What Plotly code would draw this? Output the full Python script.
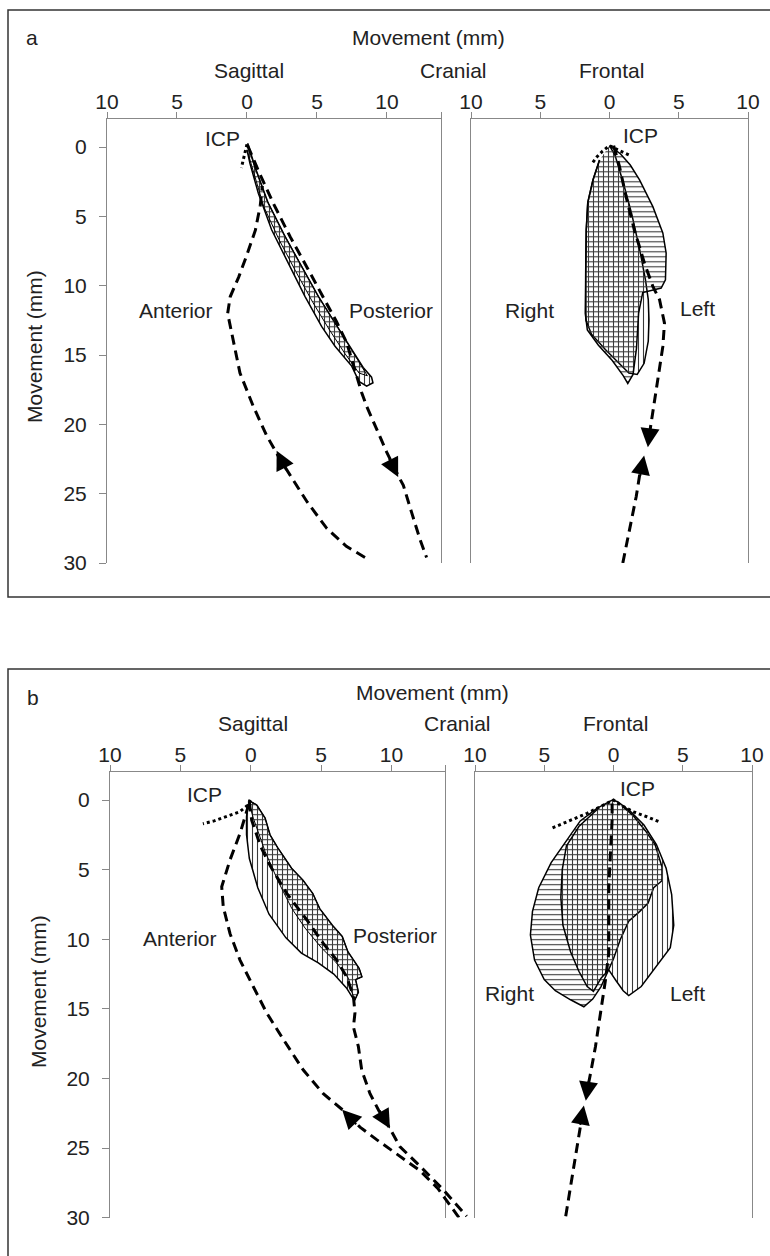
import plotly.graph_objects as go

W, H = 770, 1256

# ---------------- data (mm) ----------------
ytick_vals = [0, 5, 10, 15, 20, 25, 30]
xtick_vals = [-10, -5, 0, 5, 10]
xtick_text = ["10", "5", "0", "5", "10"]

# ---- panel a, sagittal ----
sa_envV_x = [0.05, 0.57, 1.52, 2.71, 3.90, 5.10, 6.29, 7.48, 8.30, 8.90, 9.00, 8.55, 8.00, 7.48, 6.29, 5.33, 4.14, 2.95, 1.76, 0.81, 0.21, 0.00]
sa_envV_y = [-0.27, 1.42, 4.05, 6.45, 8.60, 10.77, 12.70, 14.60, 15.90, 16.60, 17.00, 17.25, 16.90, 15.80, 14.37, 12.93, 10.77, 8.37, 5.97, 3.33, 1.17, 0.20]
sa_envH_x = [0.05, 0.50, 1.45, 2.65, 3.85, 5.05, 6.25, 7.40, 8.20, 8.60, 8.00, 7.00, 5.90, 4.70, 3.50, 2.30, 1.20, 0.40, 0.00]
sa_envH_y = [-0.20, 1.30, 3.90, 6.30, 8.50, 10.70, 12.60, 14.50, 15.80, 16.50, 16.30, 14.90, 13.20, 11.20, 9.00, 6.70, 4.30, 1.60, 0.20]
sa_dot_x = [0.0, -0.1, -0.2, -0.3, -0.4]
sa_dot_y = [-0.2, 0.2, 0.6, 1.0, 1.5]
sa_post_x = [0.05, 0.9, 1.9, 3.1, 4.3, 5.4, 6.4, 7.12, 7.48, 7.95, 8.19, 8.55, 9.26, 9.98, 10.8, 11.17, 11.76, 12.36, 12.83]
sa_post_y = [-0.1, 1.9, 4.1, 6.5, 8.7, 10.8, 12.6, 14.1, 15.3, 16.8, 17.7, 18.7, 20.36, 22.0, 23.7, 24.4, 26.35, 28.3, 29.6]
sa_ant_x = [8.43, 7.1, 5.7, 4.3, 3.1, 2.24, 1.4, 0.45, -0.5, -1.0, -1.38, -1.2, -0.6, -0.05, 0.6, 0.95, 1.1]
sa_ant_y = [29.6, 28.8, 27.5, 25.6, 23.7, 22.3, 20.8, 18.7, 16.3, 13.9, 12.0, 10.8, 9.4, 7.9, 6.0, 4.2, 2.8]
sa_arrows = [((10.8, 23.8), (10.1, 22.4)), ((2.12, 21.9), (2.85, 23.4))]

# ---- panel a, frontal ----
fa_envV_x = [0.0, 0.4, 1.0, 1.6, 2.2, 2.6, 2.8, 2.85, 2.8, 2.5, 2.0, 1.4, 0.6, -0.3, -1.3, -1.7, -1.72, -1.68, -1.57, -1.2, -0.72]
fa_envV_y = [-0.1, 0.6, 2.6, 4.8, 7.5, 9.6, 11.0, 12.5, 14.0, 15.6, 16.4, 16.3, 15.5, 14.6, 13.5, 12.5, 9.0, 6.0, 4.0, 2.4, 0.94]
fa_envH_x = [0.0, 0.8, 1.5, 2.17, 3.13, 3.85, 4.09, 4.04, 3.73, 2.89, 2.4, 2.1, 1.95, 1.7, 1.32, 1.0, 0.2, -0.8, -1.6, -1.75, -1.72, -1.68, -1.57, -1.2, -0.72]
fa_envH_y = [-0.1, 0.5, 1.3, 2.37, 4.3, 6.2, 7.65, 9.57, 10.17, 10.4, 10.5, 12.0, 14.5, 16.4, 17.05, 16.5, 15.4, 14.3, 13.2, 12.0, 9.0, 6.0, 4.0, 2.4, 0.94]
fa_dot_x = [-1.2, -0.9, -0.5, 0.0, 0.5, 1.0, 1.45]
fa_dot_y = [1.1, 0.7, 0.3, -0.1, 0.15, 0.4, 0.6]
fa_open_x = [0.3, 0.72, 1.2, 1.8, 2.53, 3.13, 3.61, 3.97, 3.85, 3.49, 3.13, 2.9]
fa_open_y = [-0.1, 1.4, 3.6, 6.0, 8.4, 10.05, 11.0, 12.7, 14.4, 16.8, 19.2, 20.6]
fa_close_x = [0.96, 1.44, 1.93, 2.17, 2.4]
fa_close_y = [30.0, 27.6, 25.2, 23.7, 22.8]
fa_arrows = [((2.77, 21.65), (2.95, 20.1)), ((2.5, 22.25), (2.2, 23.8))]

# ---- panel b, sagittal ----
sb_envV_x = [-0.17, 0.43, 1.02, 1.37, 1.9, 2.9, 3.7, 4.4, 4.9, 5.8, 6.5, 6.9, 7.7, 7.9, 7.45, 7.65, 7.4,
             7.3, 6.8, 5.9, 4.8, 3.6, 2.5, 1.3, 0.5, -0.1, -0.3, -0.3, -0.2]
sb_envV_y = [0.0, 0.36, 1.3, 2.5, 3.4, 4.9, 5.75, 6.7, 7.8, 9.0, 9.8, 10.9, 12.1, 12.7, 12.9, 13.8, 14.35,
             14.3, 13.5, 12.5, 11.7, 11.0, 9.9, 8.2, 6.3, 4.2, 2.5, 1.2, 0.3]
sb_envH_x = [-0.17, 0.43, 1.02, 1.37, 1.9, 2.9, 3.7, 4.4, 4.9, 5.8, 6.5, 6.9, 7.7, 7.9, 7.45, 7.65, 7.4,
             7.1, 6.94, 6.0, 5.05, 3.86, 2.91, 1.96, 1.02, 0.18, -0.1]
sb_envH_y = [0.0, 0.36, 1.3, 2.5, 3.4, 4.9, 5.75, 6.7, 7.8, 9.0, 9.8, 10.9, 12.1, 12.7, 12.9, 13.8, 14.35,
             13.6, 12.8, 11.6, 10.65, 9.2, 7.78, 5.87, 3.7, 1.3, 0.3]
sb_dot_x = [0.0, -0.3, -0.8, -1.7, -2.6, -3.4]
sb_dot_y = [0.0, 0.45, 0.85, 1.2, 1.5, 1.7]
sb_post_x = [-0.1, 0.07, 0.71, 1.4, 2.56, 3.98, 5.16, 6.11, 6.82, 7.3, 7.41, 7.3, 7.65, 7.89, 8.48, 9.1, 9.9, 10.6, 12.03, 13.69, 15.35]
sb_post_y = [0.1, 1.44, 3.35, 4.75, 6.7, 8.6, 10.3, 11.5, 12.7, 14.1, 15.3, 16.3, 17.7, 19.4, 21.1, 22.3, 23.6, 24.9, 26.3, 28.0, 29.9]
sb_ant_x = [14.8, 13.3, 12.0, 10.6, 8.95, 7.77, 6.58, 5.16, 3.74, 2.32, 1.14, 0.18, -0.76, -1.47, -1.95, -2.06, -1.47, -0.76, -0.4, -0.1]
sb_ant_y = [30.0, 27.9, 26.6, 25.6, 24.4, 23.5, 22.3, 21.1, 19.4, 17.2, 15.3, 13.4, 11.5, 9.6, 7.67, 6.23, 4.3, 2.4, 1.2, 0.2]
sb_arrows = [((9.9, 23.6), (9.1, 22.2)), ((6.5, 22.25), (7.6, 23.4))]

# ---- panel b, frontal ----
fb_envH_x = [-0.1, -1.2, -2.4, -3.4, -4.5, -5.4, -5.85, -6.0, -5.7, -5.0, -4.2, -3.1, -2.14,
             -1.5, -0.9, -0.4, 0.0, 0.5, 1.1, 1.9, 2.5, 2.9, 3.5, 3.5, 3.0, 2.3, 1.4, 0.6]
fb_envH_y = [0.0, 0.6, 1.5, 2.9, 4.5, 6.3, 8.0, 9.7, 11.5, 12.9, 13.7, 14.35, 14.85,
             14.3, 13.4, 12.3, 11.4, 10.0, 8.7, 8.0, 7.4, 6.3, 5.8, 4.8, 3.2, 2.2, 1.1, 0.4]
fb_envV_x = [-0.1, 0.3, 1.2, 2.2, 3.1, 3.8, 4.2, 4.35, 4.1, 3.1, 2.0, 1.1, 0.7, 0.2, -0.34, -0.9, -1.45,
             -1.9, -2.5, -3.1, -3.65, -3.8, -3.7, -3.4, -2.5, -1.2]
fb_envV_y = [0.0, 0.12, 0.8, 1.8, 3.2, 4.9, 6.8, 9.0, 10.6, 11.9, 13.4, 14.05, 13.7, 13.0, 12.2, 12.8, 13.75,
             13.4, 12.3, 10.9, 9.0, 7.0, 5.0, 3.3, 1.9, 0.7]
fb_dot_x = [-4.4, -3.1, -1.9, -0.9, 0.0, 0.5, 1.45, 2.4, 3.4]
fb_dot_y = [2.0, 1.45, 0.95, 0.45, 0.0, 0.35, 0.85, 1.2, 1.6]
fb_open_x = [-0.1, -0.1, -0.22, -0.34, -0.34, -0.34, -0.58, -0.94, -1.3, -1.65, -1.85]
fb_open_y = [0.24, 1.44, 3.83, 6.23, 8.6, 11.0, 12.93, 15.3, 17.7, 19.6, 20.6]
fb_close_x = [-3.45, -3.09, -2.73, -2.45, -2.3]
fb_close_y = [29.9, 27.8, 25.4, 23.8, 22.9]
fb_arrows = [((-2.0, 21.6), (-1.78, 20.1)), ((-2.14, 21.95), (-2.42, 23.45))]

# ---------------- layout helpers ----------------
FONT = "Arial, 'Liberation Sans', sans-serif"
TXT = "#222222"
AXC = "#888888"
FS = 21


def xd(p0, p1):
    return [p0 / W, p1 / W]


def yd(top, bot):
    return [1 - bot / H, 1 - top / H]


fig = go.Figure()

axes_def = {
    "1": (xd(107, 441), [-10, 13.86], yd(119.3, 563), True),
    "2": (xd(471, 748), [-10, 10], yd(119.3, 563), False),
    "3": (xd(110, 445), [-10, 13.8], yd(772.2, 1217.6), True),
    "4": (xd(475, 752), [-10, 10], yd(772.2, 1217.6), False),
}
layout_axes = {}
for k, (xdom, xr, ydom, ylab) in axes_def.items():
    xk = "xaxis" if k == "1" else "xaxis" + k
    yk = "yaxis" if k == "1" else "yaxis" + k
    yref = "y" if k == "1" else "y" + k
    xref = "x" if k == "1" else "x" + k
    tv = list(xtick_vals)
    tt = list(xtick_text)
    if xr[1] > 10.5:
        tv.append(xr[1])
        tt.append("")
    layout_axes[xk] = dict(
        domain=xdom, range=xr, anchor=yref, side="top", showline=True, linecolor=AXC,
        linewidth=1, mirror=False, ticks="outside", ticklen=6, tickcolor=AXC, tickwidth=1,
        tickvals=tv, ticktext=tt, showgrid=False, zeroline=False, automargin=False,
        tickfont=dict(family=FONT, size=FS, color=TXT), ticklabelstandoff=-5,
    )
    layout_axes[yk] = dict(
        domain=ydom, range=[30, -2], anchor=xref, showline=True, linecolor=AXC, linewidth=1,
        mirror=True, ticks="outside" if ylab else "", ticklen=7, tickcolor=AXC, tickwidth=1,
        tickvals=ytick_vals, showticklabels=ylab, showgrid=False, zeroline=False, automargin=False,
        tickfont=dict(family=FONT, size=FS, color=TXT), ticklabelstandoff=8,
    )
layout_axes["xaxis5"] = dict(domain=xd(110, 480), range=[-10, -10 + 370 / 14.07], anchor="y5",
                             visible=False, automargin=False)
layout_axes["yaxis5"] = dict(domain=yd(772.2, 1217.6), range=[30, -2], anchor="x5",
                             visible=False, automargin=False)


def env(xs, ys, shape, xa, ya, lw=1.5):
    fig.add_trace(go.Scatter(
        x=xs, y=ys, xaxis=xa, yaxis=ya, mode="lines", fill="toself",
        fillcolor="rgba(0,0,0,0)", line=dict(color="black", width=lw),
        fillpattern=dict(shape=shape, size=5, solidity=0.22, fgcolor="#3a3a3a", bgcolor="rgba(0,0,0,0)"),
        hoverinfo="skip", showlegend=False))


def path(xs, ys, xa, ya, dash, width=3):
    fig.add_trace(go.Scatter(
        x=xs, y=ys, xaxis=xa, yaxis=ya, mode="lines",
        line=dict(color="black", width=width, dash=dash),
        hoverinfo="skip", showlegend=False))


DASH = "10px,6px"
DOT = "3px,3px"

env(sa_envV_x, sa_envV_y, "|", "x", "y")
env(sa_envH_x, sa_envH_y, "-", "x", "y", lw=1)
path(sa_dot_x, sa_dot_y, "x", "y", DOT)
path(sa_post_x, sa_post_y, "x", "y", DASH)
path(sa_ant_x, sa_ant_y, "x", "y", DASH)

env(fa_envV_x, fa_envV_y, "|", "x2", "y2")
env(fa_envH_x, fa_envH_y, "-", "x2", "y2")
path(fa_dot_x, fa_dot_y, "x2", "y2", DOT)
path(fa_open_x, fa_open_y, "x2", "y2", DASH)
path(fa_close_x, fa_close_y, "x2", "y2", DASH)

env(sb_envV_x, sb_envV_y, "|", "x3", "y3")
env(sb_envH_x, sb_envH_y, "-", "x3", "y3", lw=1)
path(sb_dot_x, sb_dot_y, "x3", "y3", DOT)
path(sb_post_x, sb_post_y, "x5", "y5", DASH)
path(sb_ant_x, sb_ant_y, "x5", "y5", DASH)

env(fb_envH_x, fb_envH_y, "-", "x4", "y4")
env(fb_envV_x, fb_envV_y, "|", "x4", "y4")
path(fb_dot_x, fb_dot_y, "x4", "y4", DOT)
path(fb_open_x, fb_open_y, "x4", "y4", DASH)
path(fb_close_x, fb_close_y, "x4", "y4", DASH)

annotations = []
for arrows, xr_, yr_ in [(sa_arrows, "x", "y"), (fa_arrows, "x2", "y2"),
                         (sb_arrows, "x5", "y5"), (fb_arrows, "x4", "y4")]:
    for (tip, tail) in arrows:
        annotations.append(dict(
            x=tip[0], y=tip[1], ax=tail[0], ay=tail[1], xref=xr_, yref=yr_, axref=xr_, ayref=yr_,
            text="", showarrow=True, arrowhead=2, arrowsize=1.9, arrowwidth=2,
            arrowcolor="black", standoff=0))


def label(text, px, py, angle=0):
    annotations.append(dict(
        text=text, x=px / W, y=1 - py / H, xref="paper", yref="paper", showarrow=False,
        xanchor="center", yanchor="middle", textangle=angle,
        font=dict(family=FONT, size=FS, color=TXT)))


label("a", 32, 37)
label("Movement (mm)", 428, 37)
label("Sagittal", 249, 71)
label("Cranial", 453, 71)
label("Frontal", 611, 71)
label("ICP", 222, 138)
label("ICP", 640, 135)
label("Anterior", 176, 310)
label("Posterior", 391, 310)
label("Right", 529, 310)
label("Left", 697, 309)
label("Movement (mm)", 34, 347, -90)

label("b", 33, 697)
label("Movement (mm)", 432, 692)
label("Sagittal", 253, 723)
label("Cranial", 457, 723)
label("Frontal", 615, 723)
label("ICP", 205, 794)
label("ICP", 637, 788)
label("Anterior", 180, 938)
label("Posterior", 395, 936)
label("Right", 509, 993)
label("Left", 687, 993)
label("Movement (mm)", 38, 992, -90)

shapes = [
    dict(type="rect", xref="paper", yref="paper", x0=8 / W, x1=1.02, y0=1 - 597 / H, y1=1 - 10 / H,
         line=dict(color="#333333", width=1.5), fillcolor="rgba(0,0,0,0)", layer="below"),
    dict(type="rect", xref="paper", yref="paper", x0=8 / W, x1=1.02, y0=-0.02, y1=1 - 669 / H,
         line=dict(color="#333333", width=1.5), fillcolor="rgba(0,0,0,0)", layer="below"),
]

fig.update_layout(
    template="none",
    width=W, height=H, margin=dict(l=0, r=0, t=0, b=0, pad=0, autoexpand=False),
    paper_bgcolor="white", plot_bgcolor="rgba(0,0,0,0)",
    showlegend=False, annotations=annotations, shapes=shapes,
    font=dict(family=FONT, size=FS, color=TXT),
    **layout_axes,
)

fig.write_html("out.html")
